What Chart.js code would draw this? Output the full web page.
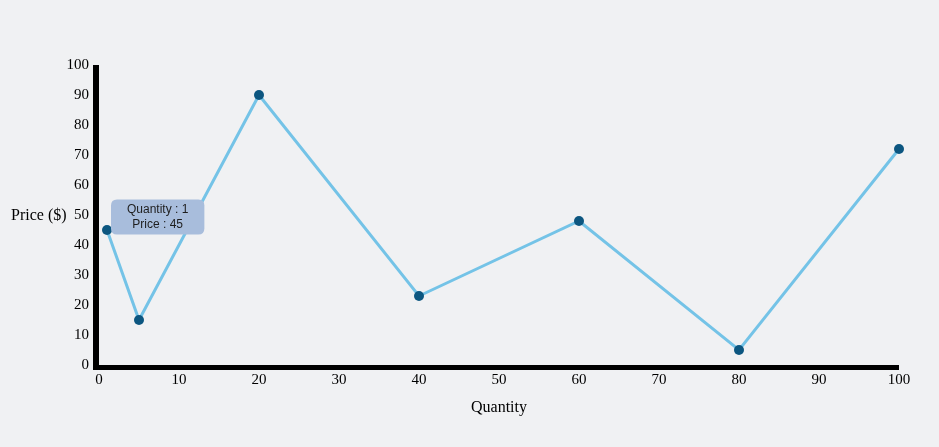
<!DOCTYPE html>
<html>
<head>
<meta charset="utf-8">
<script src="https://cdn.jsdelivr.net/npm/chart.js@4.4.1/dist/chart.umd.min.js"></script>
<style>
  html, body { margin: 0; padding: 0; background: #f0f1f3; }
  #wrap { width: 939px; height: 447px; position: relative; }
</style>
</head>
<body>
<div id="wrap"><canvas id="chart"></canvas></div>
<script>
const quantities = [1, 5, 20, 40, 60, 80, 100];
const prices = [45, 15, 90, 23, 48, 5, 72];
const xTicks = [0, 10, 20, 30, 40, 50, 60, 70, 80, 90, 100];
const yTicks = [0, 10, 20, 30, 40, 50, 60, 70, 80, 90, 100];

const serif = "'Liberation Serif', 'Times New Roman', serif";

// thick black axes + the horizontal y title
const axesPlugin = {
  id: "axes",
  beforeDatasetsDraw(chart) {
    const { ctx, scales } = chart;
    const x0 = scales.x.getPixelForValue(0);
    const x1 = scales.x.getPixelForValue(100);
    const y0 = scales.y.getPixelForValue(0);
    const y1 = scales.y.getPixelForValue(100);
    ctx.save();
    ctx.fillStyle = "#000";
    ctx.fillRect(x0 - 6, y1, 6, y0 + 5 - y1);
    ctx.fillRect(x0 - 6, y0, x1 - x0 + 6, 5);
    ctx.restore();
  },
  afterDraw(chart) {
    const { ctx, chartArea } = chart;
    ctx.save();
    ctx.font = "16px " + serif;
    ctx.fillStyle = "#000";
    ctx.textAlign = "left";
    ctx.textBaseline = "middle";
    ctx.fillText("Price ($)", 11, (chartArea.top + chartArea.bottom) / 2 + 1);
    ctx.restore();
  },
};

Chart.Tooltip.positioners.above = function (items) {
  if (!items.length) return false;
  const el = items[0].element;
  return { x: el.x, y: el.y - 13 };
};

const chart = new Chart(document.getElementById("chart"), {
  type: "line",
  data: {
    datasets: [
      {
        data: quantities.map((q, i) => ({ x: q, y: prices[i] })),
        borderColor: "#74c3e7",
        borderWidth: 3,
        pointBackgroundColor: "#0c5680",
        pointBorderColor: "#0c5680",
        pointRadius: 5,
        pointHoverRadius: 5,
        pointBorderWidth: 0,
        pointHoverBorderWidth: 0,
        tension: 0,
        clip: false,
      },
    ],
  },
  options: {
    responsive: true,
    maintainAspectRatio: false,
    animation: false,
    events: [],
    layout: { padding: { top: 65, right: 40, left: 0, bottom: 0 } },
    plugins: {
      legend: { display: false },
      tooltip: {
        enabled: true,
        position: "above",
        xAlign: "left",
        yAlign: "center",
        caretSize: 0,
        caretPadding: 4,
        backgroundColor: "#a8bddc",
        bodyColor: "#1e1e1e",
        bodyFont: { family: "'Liberation Sans', Arial, sans-serif", size: 12 },
        bodyAlign: "center",
        bodySpacing: 0,
        padding: { x: 16, y: 3 },
        cornerRadius: 6,
        displayColors: false,
        callbacks: {
          title: () => "",
          label: (ctx) => ["Quantity : " + ctx.parsed.x, "Price : " + ctx.parsed.y],
        },
      },
    },
    scales: {
      x: {
        type: "linear",
        min: 0,
        max: 100,
        afterFit: (scale) => { scale.height = 82; },
        afterBuildTicks: (scale) => { scale.ticks = xTicks.map((v) => ({ value: v })); },
        grid: { display: false, drawTicks: false },
        border: { display: false },
        ticks: { color: "#000", font: { family: serif, size: 15 }, padding: 6, maxRotation: 0 },
        title: {
          display: true,
          text: "Quantity",
          color: "#000",
          font: { family: serif, size: 16 },
          padding: { top: 0, bottom: 30 },
        },
      },
      y: {
        min: 0,
        max: 100,
        afterFit: (scale) => { scale.width = 99; },
        afterBuildTicks: (scale) => { scale.ticks = yTicks.map((v) => ({ value: v })); },
        grid: { display: false, drawTicks: false },
        border: { display: false },
        ticks: { color: "#000", font: { family: serif, size: 15 }, padding: 10 },
      },
    },
  },
  plugins: [axesPlugin],
});

chart.tooltip.setActiveElements([{ datasetIndex: 0, index: 0 }], { x: 0, y: 0 });
chart.update();
</script>
</body>
</html>
